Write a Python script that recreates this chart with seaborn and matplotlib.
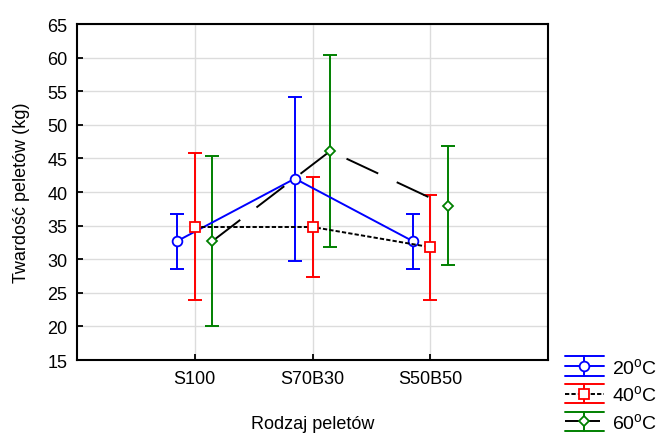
import numpy as np
import pandas as pd
import seaborn as sns
import matplotlib.pyplot as plt
from matplotlib.lines import Line2D
from matplotlib.legend_handler import HandlerBase

# Values (means and error bar ends)
categories = ['S100', 'S70B30', 'S50B50']
temp_labels = ['20$^{o}$C', '40$^{o}$C', '60$^{o}$C']

mean_20 = [32.7, 42.0, 32.7]
low_20 = [28.6, 29.8, 28.5]
high_20 = [36.8, 54.1, 36.7]

mean_40 = [34.8, 34.8, 31.8]
low_40 = [24.0, 27.4, 23.9]
high_40 = [45.8, 42.3, 39.6]

mean_60 = [32.7, 46.1, 37.9]
low_60 = [20.1, 31.8, 29.2]
high_60 = [45.4, 60.4, 46.9]

sns.set_style('white')
plt.rcParams['font.family'] = ['Liberation Sans', 'DejaVu Sans']
plt.rcParams['text.color'] = 'black'
plt.rcParams['axes.labelcolor'] = 'black'
plt.rcParams['mathtext.fontset'] = 'custom'
plt.rcParams['mathtext.rm'] = 'Liberation Sans'
plt.rcParams['mathtext.it'] = 'Liberation Sans'
plt.rcParams['mathtext.default'] = 'regular'


class SeriesKey:
    def __init__(self, col, lcol, ls, mk, ms):
        self.col, self.lcol, self.ls, self.mk, self.ms = col, lcol, ls, mk, ms


class SeriesKeyHandler(HandlerBase):
    # legend key like the original: wide caps, vertical bar, line with marker
    def create_artists(self, legend, key, xdescent, ydescent, width, height,
                       fontsize, trans):
        x0, x1 = -xdescent, -xdescent + width
        xm = (x0 + x1) / 2
        ym = height / 2 - ydescent
        cap = 7.0
        arts = [
            Line2D([x0, x1], [ym + cap, ym + cap], color=key.col, lw=1.4),
            Line2D([x0, x1], [ym - cap, ym - cap], color=key.col, lw=1.4),
            Line2D([xm, xm], [ym - cap, ym + cap], color=key.col, lw=1.4),
            Line2D([x0, x1], [ym, ym], color=key.lcol, lw=1.4, linestyle=key.ls),
            Line2D([xm], [ym], marker=key.mk, markersize=key.ms,
                   markeredgecolor=key.col, markerfacecolor='white',
                   markeredgewidth=1.3, linestyle='none'),
        ]
        for a in arts:
            a.set_transform(trans)
        return arts


fig = plt.figure(figsize=(6.58, 4.35), dpi=100)
ax = fig.add_axes([0.117, 0.170, 0.716, 0.7724])

# (means, lows, highs, colour, line colour, marker, marker size, linestyle, offset)
series = [
    (mean_20, low_20, high_20, 'blue', 'blue', 'o', 7.0, '-', -0.15),
    (mean_40, low_40, high_40, 'red', 'black', 's', 7.0, (0, (2.2, 1.1)), 0.0),
    (mean_60, low_60, high_60, 'green', 'black', 'D', 5.5, (0, (18, 10.5)), 0.15),
]

pos = np.arange(1, len(categories) + 1)
keys = []
for mean, low, high, col, lcol, mk, ms, ls, off in series:
    x = pos + off
    yerr = [np.subtract(mean, low), np.subtract(high, mean)]
    ax.errorbar(x, mean, yerr=yerr, fmt='none', ecolor=col,
                elinewidth=1.4, capsize=5, capthick=1.4, zorder=2)
    df = pd.DataFrame({'x': x, 'y': mean})
    sns.lineplot(data=df, x='x', y='y', ax=ax, color=lcol, linestyle=ls,
                 linewidth=1.4, marker=mk, markersize=ms, markeredgecolor=col,
                 markerfacecolor='white', markeredgewidth=1.3, zorder=3)
    keys.append(SeriesKey(col, lcol, ls, mk, ms))

ax.set_xlim(0, 4)
ax.set_ylim(15, 65)
ax.set_xticks(pos)
ax.set_xticklabels(categories)
ax.set_yticks(np.arange(15, 66, 5))
ax.grid(True, color='#dcdcdc', linewidth=1)
ax.set_axisbelow(True)
for sp in ax.spines.values():
    sp.set_color('black')
    sp.set_linewidth(1.5)
ax.tick_params(direction='in', length=4, width=1.3, labelsize=13, pad=7,
               left=True, bottom=True, top=False, right=False, colors='black')

ax.set_xlabel('Rodzaj peletów', fontsize=13, labelpad=20)
ax.set_ylabel('Twardość peletów (kg)', fontsize=13, labelpad=12)

fig.legend(keys, temp_labels, handler_map={SeriesKey: SeriesKeyHandler()},
           loc='lower left', bbox_to_anchor=(0.858, 0.004), frameon=False,
           borderpad=0, borderaxespad=0, fontsize=14, handlelength=2.05,
           labelspacing=0.4, handletextpad=0.4)

fig.savefig('out.png', dpi=100)
